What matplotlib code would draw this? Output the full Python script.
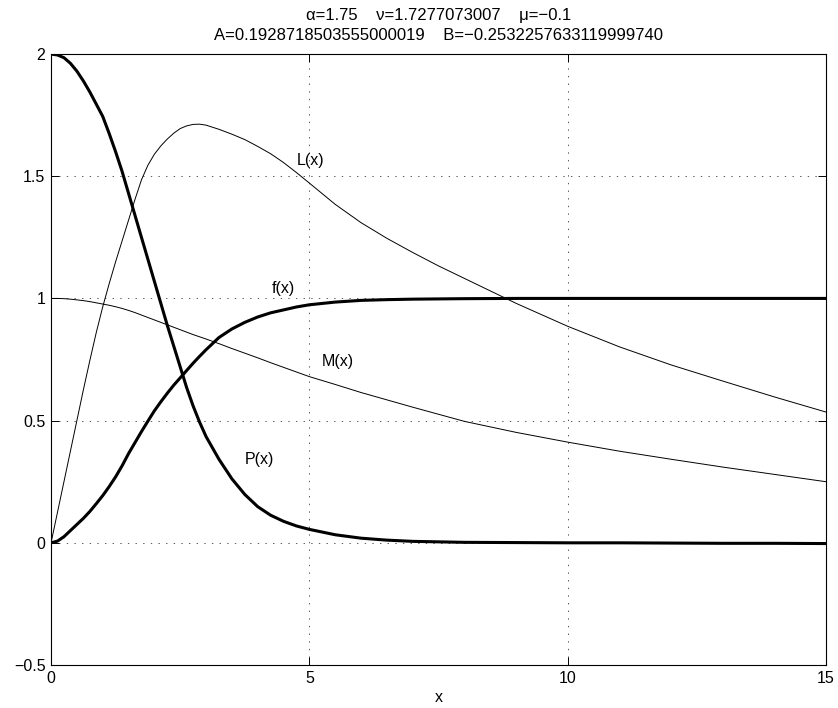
import matplotlib
matplotlib.use('Agg')
import matplotlib.pyplot as plt

# valeurs
x = [0, 0.125, 0.25, 0.375, 0.5, 0.625, 0.75, 0.875, 1.0, 1.125, 1.25, 1.375,
     1.5, 1.625, 1.75, 1.875, 2.0, 2.125, 2.25, 2.375, 2.5, 2.625, 2.75,
     2.875, 3.0, 3.25, 3.5, 3.75, 4.0, 4.25, 4.5, 4.75, 5.0, 5.5, 6.0, 6.5,
     7.0, 7.5, 8.0, 9.0, 10.0, 11.0, 12.0, 13.0, 14.0, 15.0]

f_vals = [0.0, 0.007, 0.025, 0.05, 0.075, 0.10, 0.128, 0.16, 0.193, 0.23,
          0.27, 0.315, 0.365, 0.41, 0.455, 0.498, 0.54, 0.577, 0.612, 0.645,
          0.675, 0.705, 0.735, 0.763, 0.79, 0.84, 0.875, 0.902, 0.924, 0.941,
          0.953, 0.965, 0.974, 0.985, 0.992, 0.995, 0.997, 0.998, 0.999, 1.0,
          1.0, 1.0, 1.0, 1.0, 1.0, 1.0]

P_vals = [2.0, 1.996, 1.985, 1.962, 1.93, 1.89, 1.845, 1.795, 1.745, 1.675,
          1.60, 1.52, 1.43, 1.34, 1.25, 1.16, 1.07, 0.98, 0.89, 0.805, 0.72,
          0.635, 0.56, 0.494, 0.435, 0.342, 0.262, 0.198, 0.148, 0.113, 0.088,
          0.069, 0.055, 0.033, 0.019, 0.011, 0.006, 0.004, 0.002, 0.001, 0.0,
          0.0, -0.001, -0.002, -0.002, -0.003]

L_vals = [0.0, 0.125, 0.25, 0.375, 0.5, 0.625, 0.745, 0.86, 0.965, 1.06,
          1.15, 1.235, 1.32, 1.405, 1.485, 1.545, 1.59, 1.624, 1.652, 1.676,
          1.695, 1.706, 1.712, 1.713, 1.709, 1.692, 1.672, 1.65, 1.622, 1.592,
          1.556, 1.515, 1.472, 1.385, 1.31, 1.246, 1.188, 1.133, 1.082, 0.98,
          0.886, 0.802, 0.728, 0.662, 0.597, 0.535]

M_vals = [1.0, 1.0, 0.999, 0.997, 0.994, 0.991, 0.987, 0.982, 0.977, 0.972,
          0.966, 0.959, 0.951, 0.942, 0.932, 0.922, 0.912, 0.902, 0.892, 0.882,
          0.872, 0.862, 0.852, 0.843, 0.834, 0.815, 0.795, 0.776, 0.757, 0.737,
          0.718, 0.699, 0.68, 0.648, 0.615, 0.585, 0.555, 0.526, 0.497, 0.452,
          0.412, 0.375, 0.342, 0.31, 0.28, 0.25]

# etiquettes des courbes (texte, x, y)
etiquettes = [('L(x)', 4.75, 1.565), ('f(x)', 4.27, 1.04),
              ('M(x)', 5.24, 0.742), ('P(x)', 3.75, 0.339)]

titre = ('\u03b1=1.75    \u03bd=1.7277073007    \u03bc=\u22120.1\n'
         'A=0.1928718503555000019    B=\u22120.2532257633119999740')

plt.rcParams['font.family'] = ['Liberation Sans', 'DejaVu Sans']
plt.rcParams['font.size'] = 11.5
plt.rcParams['lines.scale_dashes'] = False

fig = plt.figure(figsize=(8.38, 7.08), dpi=100)
ax = fig.add_axes([0.0609, 0.0607, 0.9248, 0.863])

ax.plot(x, f_vals, color='k', linewidth=2.2)
ax.plot(x, L_vals, color='k', linewidth=0.7)
ax.plot(x, M_vals, color='k', linewidth=0.7)
ax.plot(x, P_vals, color='k', linewidth=2.2)

for txt, tx, ty in etiquettes:
    ax.text(tx, ty, txt, ha='left', va='center', fontsize=11.5)

ax.set_xlim(0, 15)
ax.set_ylim(-0.5, 2)
ax.set_xticks([0, 5, 10, 15])
ax.set_yticks([-0.5, 0, 0.5, 1, 1.5, 2])
ax.set_xticklabels(['0', '5', '10', '15'])
ax.set_yticklabels(['\u22120.5', '0', '0.5', '1', '1.5', '2'])

ax.grid(True, color='0.25', linestyle=(0, (1, 4.5)), linewidth=0.6)
ax.tick_params(direction='in', length=5.8, width=0.7, top=True, right=True,
               pad=4, labelsize=11.5)
for sp in ax.spines.values():
    sp.set_linewidth(0.8)

ax.set_xlabel('x', labelpad=3)
ax.set_title(titre, fontsize=12, linespacing=1.4, pad=10)

fig.savefig('out.png', dpi=100)
